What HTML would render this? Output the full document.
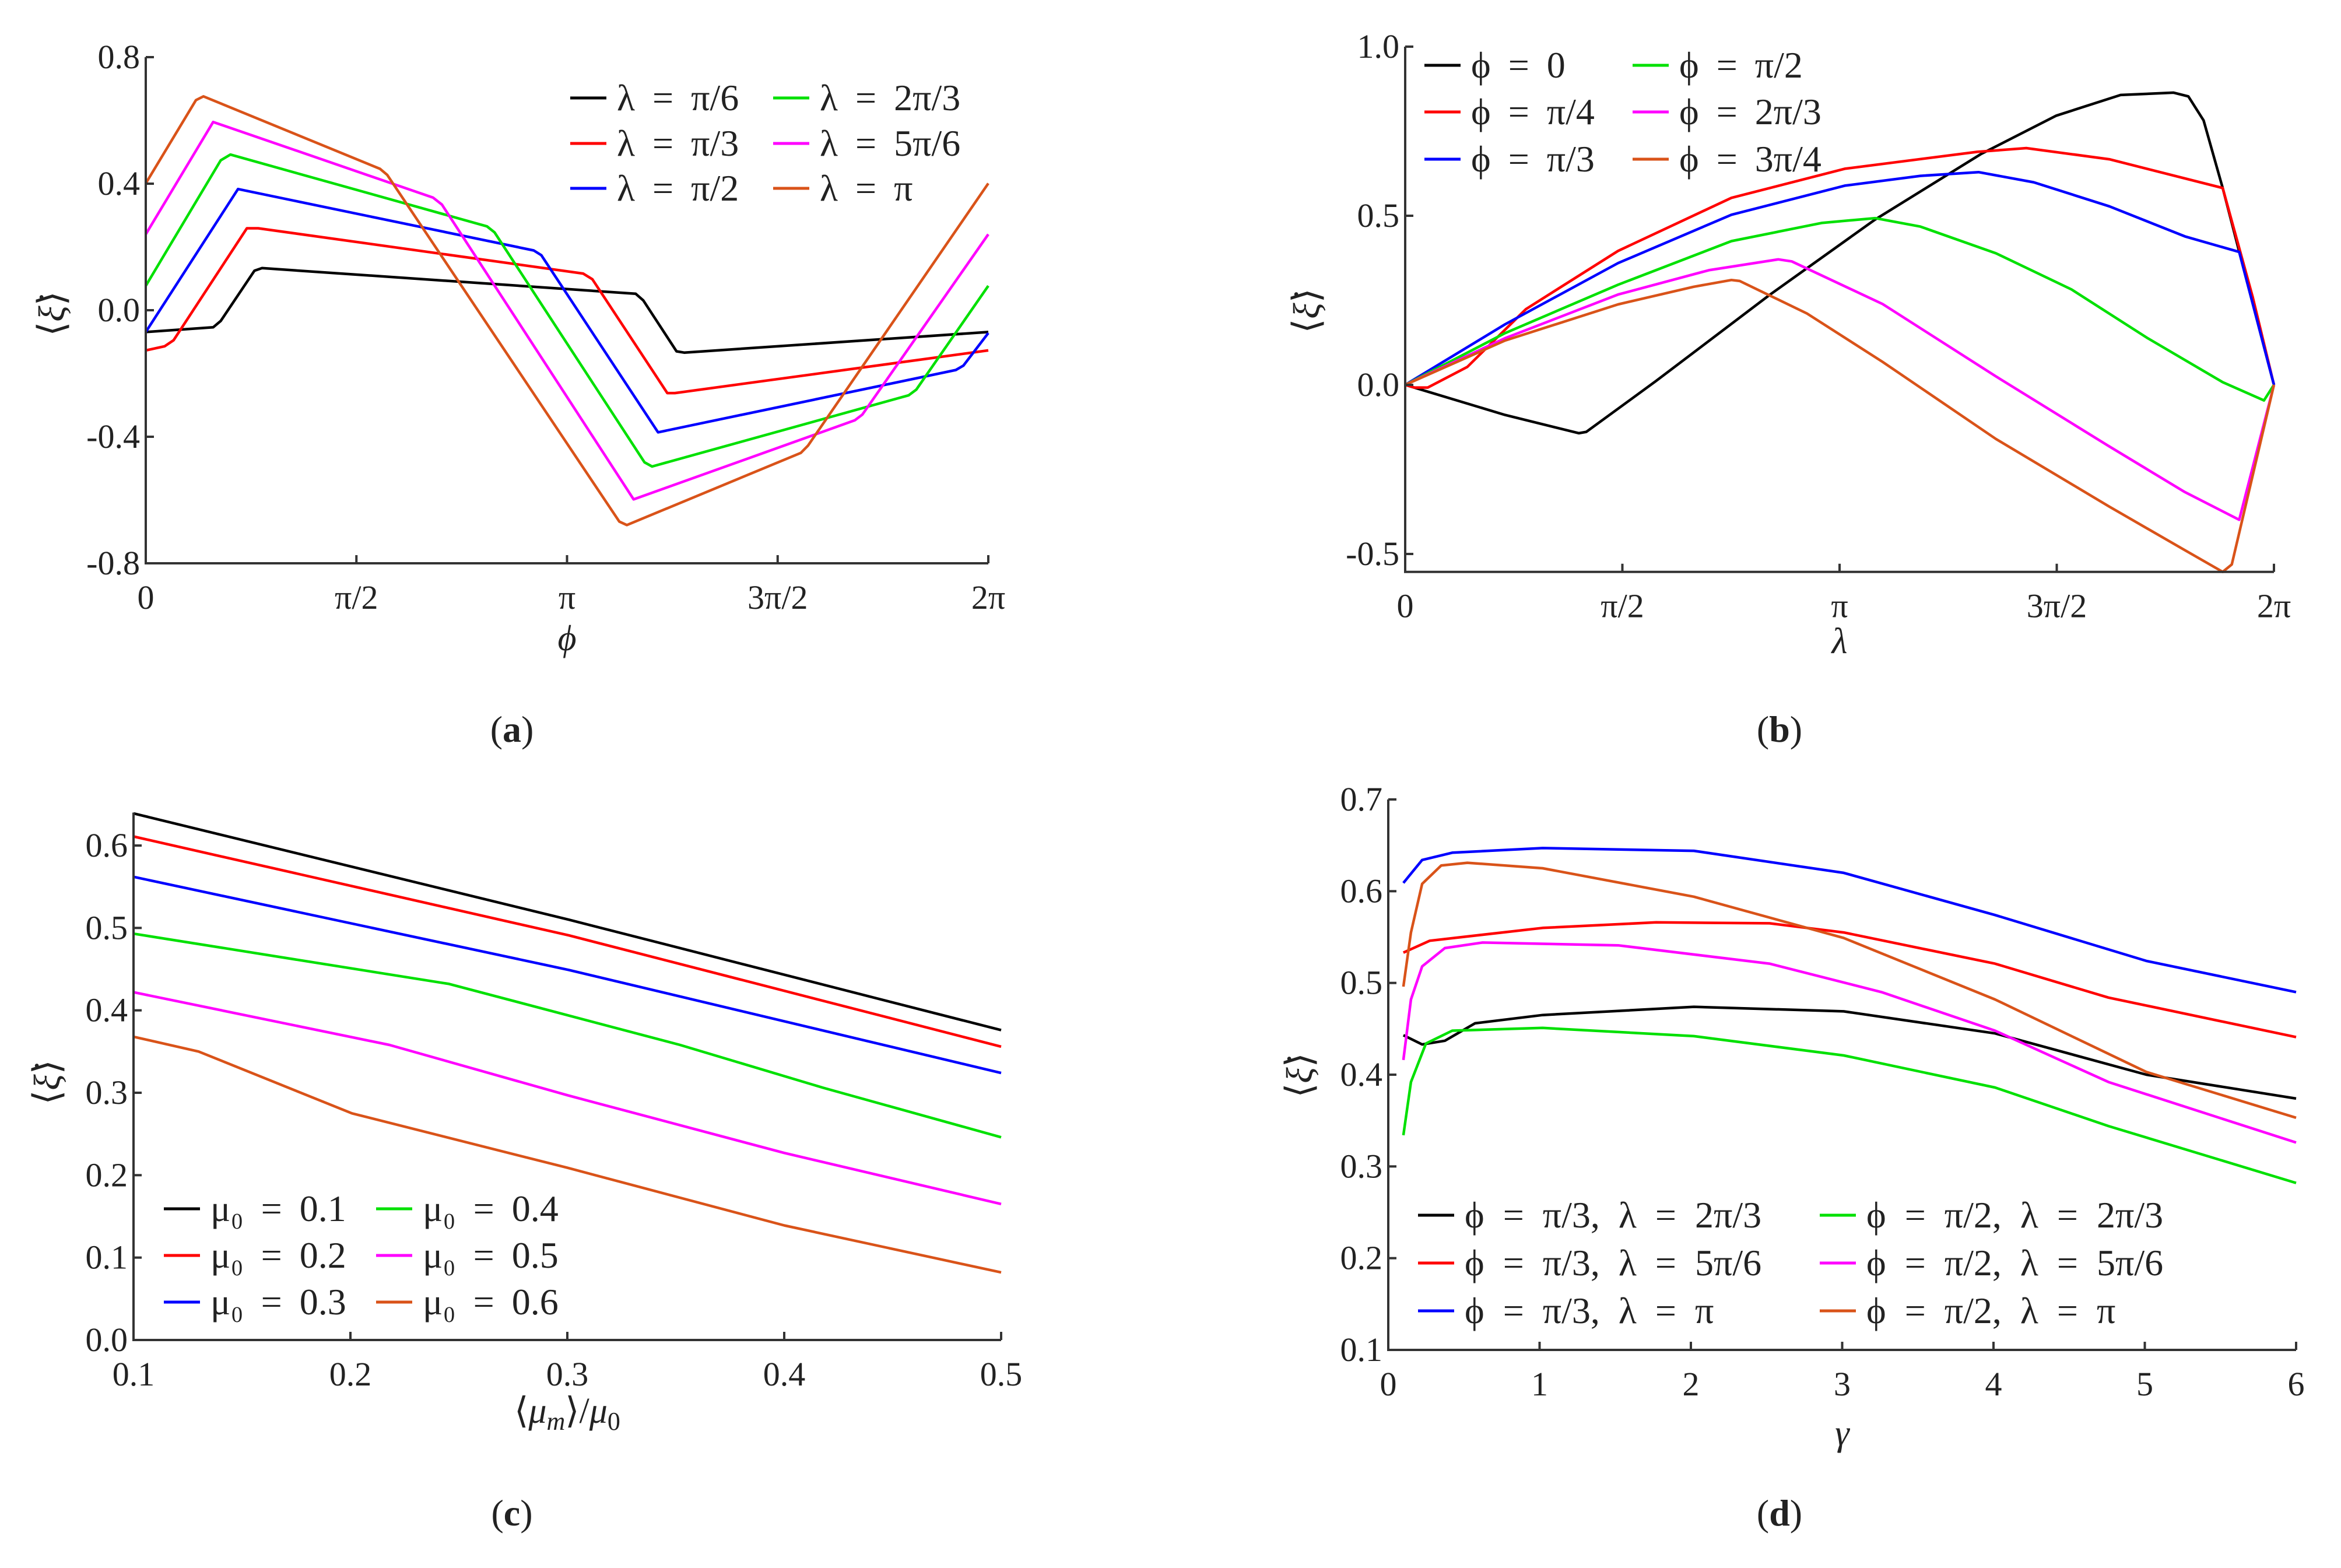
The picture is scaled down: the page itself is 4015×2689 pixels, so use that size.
<!DOCTYPE html>
<html><head><meta charset="utf-8"><style>
html,body{margin:0;padding:0;background:#fff;}
svg{display:block;}
text{font-family:"Liberation Serif","DejaVu Serif",serif;fill:#222;}
</style></head><body>
<svg id="fig" width="4015" height="2689" viewBox="0 0 4015 2689" xmlns="http://www.w3.org/2000/svg"></svg>
<script>
// ---------- Panel (a) data: x in units of pi ----------
const aXTicks=[0,0.5,1,1.5,2];
const aXTickLabels=["0","π/2","π","3π/2","2π"];
const aYTicks=[-0.8,-0.4,0,0.4,0.8];
const aYTickLabels=["-0.8","-0.4","0.0","0.4","0.8"];
const aNames=["λ = π/6","λ = π/3","λ = π/2","λ = 2π/3","λ = 5π/6","λ = π"];
const aBlack=[[0,-0.069],[0.16,-0.054],[0.178,-0.034],[0.258,0.125],[0.276,0.133],[1.163,0.052],[1.181,0.031],[1.260,-0.130],[1.278,-0.134],[2,-0.069]];
const aRed=[[0,-0.127],[0.045,-0.114],[0.066,-0.095],[0.240,0.259],[0.267,0.259],[1.038,0.116],[1.06,0.098],[1.238,-0.262],[1.256,-0.262],[2,-0.127]];
const aBlue=[[0,-0.069],[0.219,0.383],[0.921,0.189],[0.939,0.174],[1.216,-0.386],[1.923,-0.189],[1.941,-0.175],[2,-0.072]];
const aGreen=[[0,0.077],[0.178,0.474],[0.201,0.492],[0.810,0.265],[0.828,0.246],[1.184,-0.481],[1.202,-0.494],[1.811,-0.269],[1.829,-0.251],[2,0.077]];
const aMagenta=[[0,0.240],[0.160,0.595],[0.682,0.356],[0.703,0.334],[1.158,-0.598],[1.683,-0.348],[1.701,-0.330],[2,0.240]];
const aOrange=[[0,0.401],[0.119,0.664],[0.137,0.676],[0.556,0.447],[0.573,0.428],[1.124,-0.668],[1.142,-0.679],[1.555,-0.451],[1.572,-0.428],[2,0.401]];

// ---------- Panel (b) data ----------
const bXTicks=[0,0.5,1,1.5,2];
const bXTickLabels=["0","π/2","π","3π/2","2π"];
const bYTicks=[-0.5,0,0.5,1.0];
const bYTickLabels=["-0.5","0.0","0.5","1.0"];
const bNames=["ϕ = 0","ϕ = π/4","ϕ = π/3","ϕ = π/2","ϕ = 2π/3","ϕ = 3π/4"];
const bBlack=[[0,0],[0.23,-0.089],[0.4,-0.143],[0.417,-0.139],[0.577,0.011],[0.838,0.265],[1.082,0.489],[1.325,0.682],[1.499,0.796],[1.647,0.857],[1.769,0.864],[1.803,0.853],[1.838,0.782],[1.882,0.582],[1.934,0.325],[2,0]];
const bRed=[[0,0],[0.021,-0.008],[0.052,-0.008],[0.143,0.053],[0.278,0.224],[0.49,0.396],[0.751,0.553],[1.012,0.639],[1.317,0.689],[1.43,0.700],[1.621,0.667],[1.882,0.582],[1.951,0.26],[2,0]];
const bBlue=[[0,0],[0.23,0.179],[0.49,0.36],[0.751,0.503],[1.012,0.589],[1.186,0.618],[1.32,0.629],[1.447,0.599],[1.621,0.528],[1.795,0.439],[1.92,0.393],[2,0]];
const bGreen=[[0,0],[0.23,0.153],[0.49,0.296],[0.751,0.425],[0.96,0.479],[1.082,0.493],[1.186,0.468],[1.36,0.389],[1.534,0.282],[1.708,0.139],[1.882,0.008],[1.977,-0.046],[2,0]];
const bMagenta=[[0,0],[0.23,0.138],[0.49,0.267],[0.699,0.339],[0.859,0.371],[0.89,0.365],[1.099,0.239],[1.36,0.025],[1.621,-0.182],[1.795,-0.317],[1.92,-0.399],[2,0]];
const bOrange=[[0,0],[0.23,0.131],[0.49,0.238],[0.664,0.29],[0.751,0.310],[0.77,0.307],[0.925,0.211],[1.099,0.068],[1.36,-0.160],[1.621,-0.360],[1.795,-0.489],[1.882,-0.553],[1.903,-0.531],[2,0]];

// ---------- Panel (c) data ----------
const cXTicks=[0.1,0.2,0.3,0.4,0.5];
const cXTickLabels=["0.1","0.2","0.3","0.4","0.5"];
const cYTicks=[0,0.1,0.2,0.3,0.4,0.5,0.6];
const cYTickLabels=["0.0","0.1","0.2","0.3","0.4","0.5","0.6"];
const cNames=["μ₀ = 0.1","μ₀ = 0.2","μ₀ = 0.3","μ₀ = 0.4","μ₀ = 0.5","μ₀ = 0.6"];
const cBlack=[[0.1,0.639],[0.3007,0.510],[0.5,0.376]];
const cRed=[[0.1,0.611],[0.3007,0.491],[0.5,0.356]];
const cBlue=[[0.1,0.562],[0.3007,0.449],[0.5,0.324]];
const cGreen=[[0.1,0.493],[0.2455,0.432],[0.352,0.358],[0.418,0.306],[0.5,0.246]];
const cMagenta=[[0.1,0.422],[0.218,0.358],[0.3,0.297],[0.4,0.227],[0.5,0.165]];
const cOrange=[[0.1,0.368],[0.130,0.350],[0.2007,0.275],[0.3,0.209],[0.4,0.139],[0.5,0.082]];

// ---------- Panel (d) data ----------
const dXTicks=[0,1,2,3,4,5,6];
const dXTickLabels=["0","1","2","3","4","5","6"];
const dYTicks=[0.1,0.2,0.3,0.4,0.5,0.6,0.7];
const dYTickLabels=["0.1","0.2","0.3","0.4","0.5","0.6","0.7"];
const dNames=["ϕ = π/3, λ = 2π/3","ϕ = π/3, λ = 5π/6","ϕ = π/3, λ = π","ϕ = π/2, λ = 2π/3","ϕ = π/2, λ = 5π/6","ϕ = π/2, λ = π"];
const dBlack=[[0.1,0.443],[0.224,0.433],[0.374,0.437],[0.573,0.456],[1.02,0.465],[2.02,0.474],[3.01,0.469],[4.01,0.445],[5.01,0.400],[6,0.374]];
const dRed=[[0.1,0.533],[0.274,0.546],[1.02,0.560],[1.77,0.566],[2.52,0.565],[3.01,0.555],[4.01,0.521],[4.76,0.484],[6,0.441]];
const dBlue=[[0.1,0.609],[0.224,0.634],[0.423,0.642],[1.02,0.647],[2.02,0.644],[3.01,0.620],[4.01,0.574],[5.01,0.524],[6,0.490]];
const dGreen=[[0.1,0.334],[0.15,0.392],[0.249,0.434],[0.423,0.448],[1.02,0.451],[2.02,0.442],[3.01,0.421],[4.01,0.386],[4.76,0.344],[6,0.282]];
const dMagenta=[[0.1,0.416],[0.15,0.482],[0.224,0.518],[0.374,0.538],[0.623,0.544],[1.52,0.541],[2.52,0.521],[3.26,0.490],[4.01,0.448],[4.76,0.392],[6,0.326]];
const dOrange=[[0.1,0.496],[0.15,0.555],[0.224,0.608],[0.35,0.628],[0.523,0.631],[1.02,0.625],[2.02,0.594],[3.01,0.549],[4.01,0.482],[5.01,0.403],[6,0.353]];

const COLORS=["#000000","#ff0000","#0000ff","#00e000","#ff00ff","#d95319"];
const NS="http://www.w3.org/2000/svg";
const svg=document.getElementById('fig');
function mk(tag,attrs,parent){const e=document.createElementNS(NS,tag);for(const k in attrs)e.setAttribute(k,attrs[k]);(parent||svg).appendChild(e);return e;}

function panel(p){
  const g=mk('g',{});
  
  
  const sx=v=>p.x0+(v-p.xmin)/(p.xmax-p.xmin)*(p.x1-p.x0);
  const sy=v=>p.y0+(v-p.ymin)/(p.ymax-p.ymin)*(p.y1-p.y0);
  const yb=sy(p.ybot), yt=sy(p.ytop);
  p.series.forEach((s,i)=>{
    const pl=mk('polyline',{points:s.map(d=>sx(d[0]).toFixed(1)+','+sy(d[1]).toFixed(1)).join(' '),fill:'none',stroke:COLORS[i],'stroke-width':4.5,'stroke-linejoin':'round'},g);
    
    
  });
  const ax=mk('path',{d:`M${p.x0},${yt}V${yb}H${p.x1}`,fill:'none',stroke:'#333','stroke-width':4},g);
  
  
  p.xt.forEach((v,i)=>{
    mk('line',{x1:sx(v),x2:sx(v),y1:yb,y2:yb-14,stroke:'#333','stroke-width':4},g);
    const t=mk('text',{x:sx(v),y:yb+78,'text-anchor':'middle','font-size':58},g);
    t.textContent=p.xl[i];
    
    
  });
  p.yt.forEach((v,i)=>{
    mk('line',{x1:p.x0,x2:p.x0+14,y1:sy(v),y2:sy(v),stroke:'#333','stroke-width':4},g);
    const t=mk('text',{x:p.x0-10,y:sy(v)+19,'text-anchor':'end','font-size':58},g);
    t.textContent=p.yl[i];
    
    
  });
  const xtl=mk('text',{x:(p.x0+p.x1)/2,y:p.xtY,'text-anchor':'middle','font-size':62,'font-style':'italic'},g);
  xtl.innerHTML=p.xtitle;
  
  
  const ytl=mk('text',{x:0,y:0,'text-anchor':'middle','font-size':64,transform:`translate(${p.ytX},${p.ytY}) rotate(-90)`},g);
  ytl.innerHTML='⟨<tspan font-style="italic">ξ̇</tspan>⟩';
  
  
  p.names.forEach((n,i)=>{
    const col=Math.floor(i/3), row=i%3;
    const lx=p.lg.x[col], ly=p.lg.y[row];
    const le=mk('g',{},g);
    
    
    mk('line',{x1:lx,x2:lx+62,y1:ly,y2:ly,stroke:COLORS[i],'stroke-width':5},le);
    const t=mk('text',{x:lx+80,y:ly+21,'font-size':64,'word-spacing':p.ws||10},le);
    t.textContent=n;
  });
  const lab=mk('text',{x:p.lab[0],y:p.lab[1],'text-anchor':'middle','font-size':64},g);
  lab.innerHTML='(<tspan font-weight="bold">'+p.id+'</tspan>)';
  
  
}

panel({id:'a',x0:250,x1:1695,xmin:0,xmax:2,y0:966,y1:98,ymin:-0.8,ymax:0.8,ybot:-0.8,ytop:0.8,
  xt:aXTicks,xl:aXTickLabels,yt:aYTicks,yl:aYTickLabels,series:[aBlack,aRed,aBlue,aGreen,aMagenta,aOrange],
  names:aNames,lg:{x:[978,1326],y:[168,246,323]},xtitle:'ϕ',xtY:1115,ytX:110,ytY:538,lab:[878,1272],ws:14});
panel({id:'b',x0:2410,x1:3900,xmin:0,xmax:2,y0:950,y1:80,ymin:-0.5,ymax:1.0,ybot:-0.553,ytop:1.0,
  xt:bXTicks,xl:bXTickLabels,yt:bYTicks,yl:bYTickLabels,series:[bBlack,bRed,bBlue,bGreen,bMagenta,bOrange],
  names:bNames,lg:{x:[2443,2800],y:[112,192,273]},xtitle:'λ',xtY:1120,ytX:2262,ytY:533,lab:[3052,1272],ws:14});
panel({id:'c',x0:229,x1:1717,xmin:0.1,xmax:0.5,y0:2298,y1:1450,ymin:0,ymax:0.6,ybot:0,ytop:0.64,
  xt:cXTicks,xl:cXTickLabels,yt:cYTicks,yl:cYTickLabels,series:[cBlack,cRed,cBlue,cGreen,cMagenta,cOrange],
  names:cNames,lg:{x:[281,645],y:[2073,2153,2233]},xtitle:'<tspan font-style="normal">⟨</tspan>μ<tspan font-size="44" dy="12">m</tspan><tspan dy="-12" font-style="normal">⟩/</tspan>μ<tspan font-size="44" dy="12" font-style="normal">0</tspan>',xtY:2440,ytX:102,ytY:1856,lab:[878,2616],ws:14});
panel({id:'d',x0:2381,x1:3938,xmin:0,xmax:6,y0:2315,y1:1371,ymin:0.1,ymax:0.7,ybot:0.1,ytop:0.7,
  xt:dXTicks,xl:dXTickLabels,yt:dYTicks,yl:dYTickLabels,series:[dBlack,dRed,dBlue,dGreen,dMagenta,dOrange],
  names:dNames,lg:{x:[2432,3121],y:[2084,2166,2248]},xtitle:'γ',xtY:2478,ytX:2250,ytY:1844,lab:[3052,2616],ws:16});
</script>
</body></html>
